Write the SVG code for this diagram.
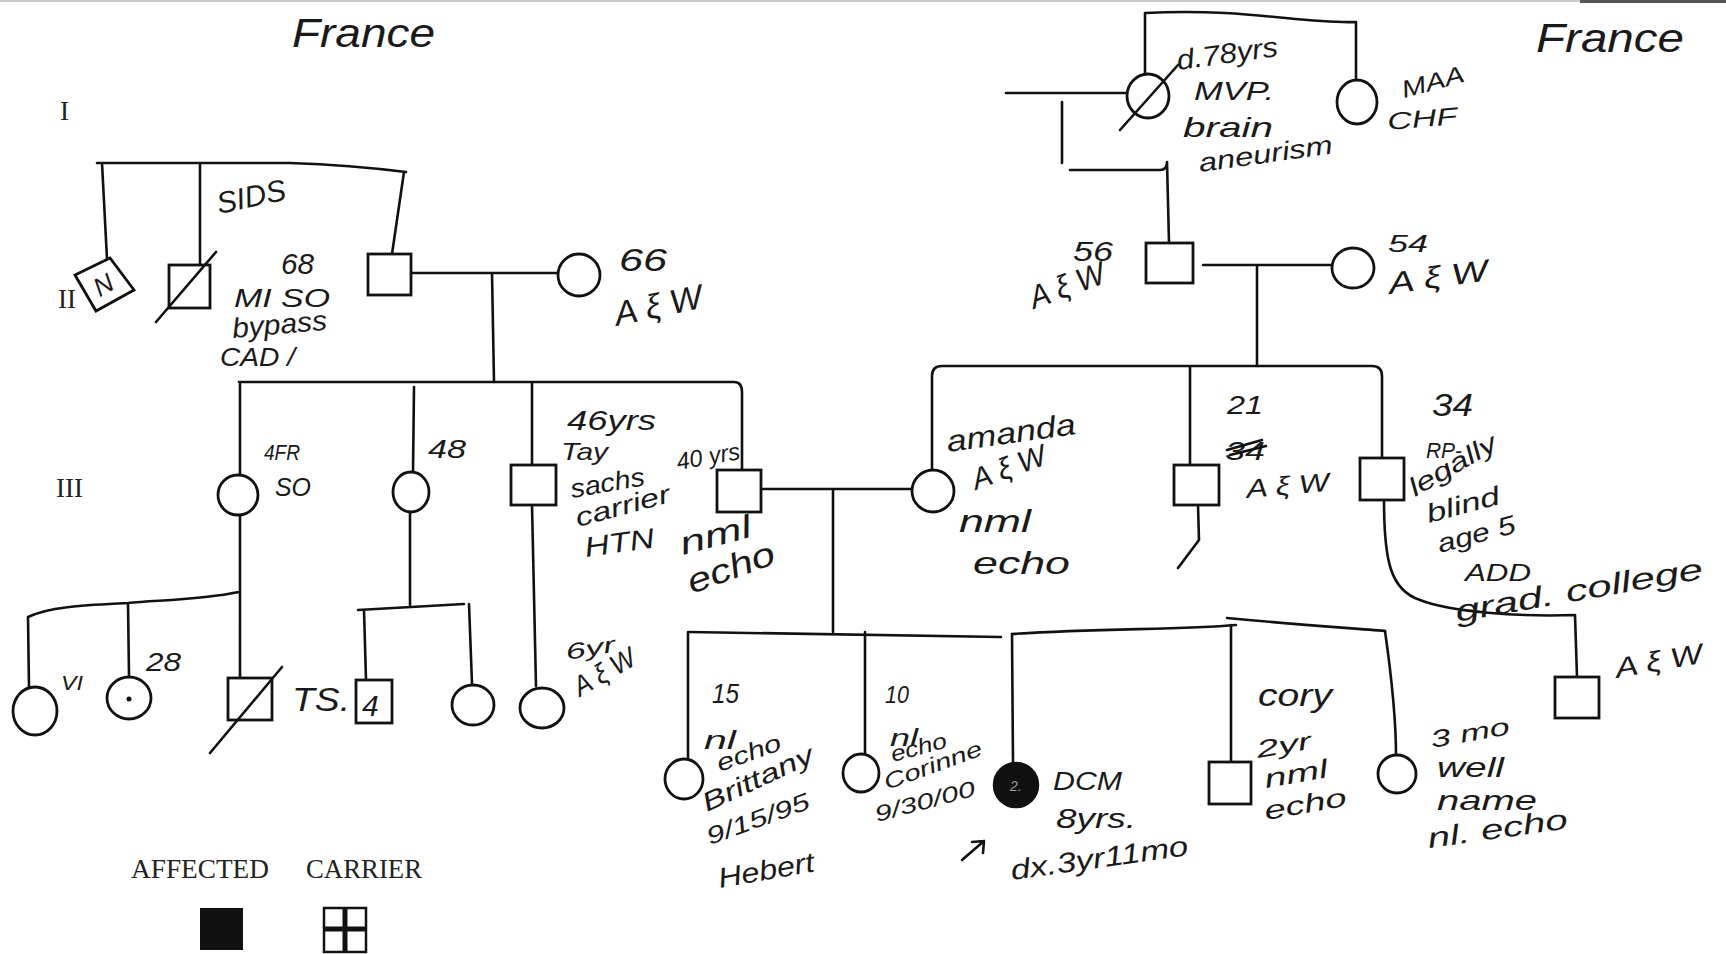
<svg xmlns="http://www.w3.org/2000/svg" width="1726" height="954" viewBox="0 0 1726 954">
<style>
.ln{stroke:#111;stroke-width:2.6;fill:none;stroke-linecap:round;stroke-linejoin:round}
.sym{stroke:#111;stroke-width:2.8;fill:#fff}
.fill{fill:#111;stroke:#111;stroke-width:2.5}
.hw{font-family:"Liberation Sans","DejaVu Sans",sans-serif;font-style:italic;fill:#1a1a1a}
.lv{font-family:"Liberation Serif","DejaVu Serif",serif;font-size:27px;fill:#222}
</style>
<rect x="0" y="0" width="1726" height="954" fill="#fff"/>
<g id="scan-edge">
<line x1="0" y1="1" x2="1726" y2="1" stroke="#c8c8c8" stroke-width="2"/>
<line x1="1580" y1="1" x2="1726" y2="1" stroke="#555" stroke-width="4"/>
</g>
<g id="generation-labels">
<text class="lv" x="60" y="120">I</text>
<text class="lv" x="58" y="308">II</text>
<text class="lv" x="56" y="497">III</text>
</g>
<g id="origin-labels">
<text class="hw" x="292" y="47" font-size="40" textLength="143" lengthAdjust="spacingAndGlyphs">France</text>
<text class="hw" x="1536" y="52" font-size="40" textLength="148" lengthAdjust="spacingAndGlyphs">France</text>
</g>
<g id="connectors">
<path class="ln" d="M1145,13 C1250,8 1300,24 1356,22 M1145,13 L1145,75 M1356,22 L1356,80"/>
<path class="ln" d="M1006,93 L1127,93 M1062,102 L1062,163 M1070,170 L1160,170 Q1167,170 1167,162 M1167,162 L1169,243"/>
<path class="ln" d="M97,163 L290,163 Q350,165 406,172 M102,163 L107,259 M200,163 L200,265 M404,172 L392,254"/>
<path class="ln" d="M411,273 L558,273 M492,273 L494,382"/>
<path class="ln" d="M239,382 L734,382 Q742,382 742,392 L742,469 M240,384 L240,475 M414,387 L413,472 M532,382 L532,465"/>
<path class="ln" d="M240,515 L240,678 M239,592 C200,600 160,600 128,603 C90,605 50,606 28,617 L29,688 M128,603 L129,676"/>
<path class="ln" d="M410,512 L410,605 M358,610 L464,604 M364,610 L366,680 M469,604 L472,684"/>
<path class="ln" d="M532,505 L536,686"/>
<path class="ln" d="M761,489 L912,489 M833,489 L833,632"/>
<path class="ln" d="M689,632 L1001,637 M1012,634 C1100,628 1180,630 1236,625 M1227,618 C1300,625 1350,628 1385,631"/>
<path class="ln" d="M688,632 L688,760 M865,632 L865,755 M1012,634 L1013,763 M1231,625 L1231,762 M1385,631 C1392,680 1396,720 1396,755"/>
<path class="ln" d="M1203,265 L1332,265 M1257,265 L1257,366"/>
<path class="ln" d="M932,470 L932,376 Q932,366 942,366 L1372,366 Q1382,366 1382,376 L1382,458 M1190,366 L1190,465"/>
<path class="ln" d="M1198,505 L1199,540 L1178,568"/>
<path class="ln" d="M1384,500 C1384,560 1390,590 1420,600 C1450,612 1520,617 1575,615 L1577,677"/>
</g>
<g id="I-1">
<ellipse class="sym" cx="1148" cy="96" rx="21" ry="22"/>
<line class="ln" x1="1120" y1="130" x2="1178" y2="65"/>
<text class="hw" x="1178" y="70" font-size="28" textLength="102" lengthAdjust="spacingAndGlyphs" transform="rotate(-8 1178 70)">d.78yrs</text>
<text class="hw" x="1194" y="100" font-size="26" textLength="80" lengthAdjust="spacingAndGlyphs">MVP.</text>
<text class="hw" x="1183" y="137" font-size="28" textLength="90" lengthAdjust="spacingAndGlyphs">brain</text>
<text class="hw" x="1200" y="172" font-size="26" textLength="135" lengthAdjust="spacingAndGlyphs" transform="rotate(-8 1200 172)">aneurism</text>
</g>
<g id="I-2">
<ellipse class="sym" cx="1357" cy="102" rx="20" ry="22"/>
<text class="hw" x="1404" y="98" font-size="24" textLength="64" lengthAdjust="spacingAndGlyphs" transform="rotate(-15 1404 98)">MAA</text>
<text class="hw" x="1388" y="130" font-size="24" textLength="70" lengthAdjust="spacingAndGlyphs" transform="rotate(-5 1388 130)">CHF</text>
</g>
<g id="II-1">
<polygon class="sym" points="75,275 110,258 134,290 96,311"/>
<text class="hw" x="104" y="294" font-size="26" text-anchor="middle" transform="rotate(-30 104 286)">N</text>
</g>
<g id="II-2">
<rect class="sym" x="169" y="265" width="41" height="43"/>
<line class="ln" x1="156" y1="322" x2="216" y2="252"/>
<text class="hw" x="219" y="214" font-size="30" textLength="70" lengthAdjust="spacingAndGlyphs" transform="rotate(-12 219 214)">SIDS</text>
</g>
<g id="II-3">
<rect class="sym" x="368" y="254" width="43" height="41"/>
<text class="hw" x="281" y="274" font-size="30" textLength="33" lengthAdjust="spacingAndGlyphs">68</text>
<text class="hw" x="234" y="307" font-size="26" textLength="96" lengthAdjust="spacingAndGlyphs">MI SO</text>
<text class="hw" x="233" y="338" font-size="28" textLength="95" lengthAdjust="spacingAndGlyphs" transform="rotate(-5 233 338)">bypass</text>
<text class="hw" x="220" y="366" font-size="26" textLength="75" lengthAdjust="spacingAndGlyphs">CAD /</text>
</g>
<g id="II-4">
<circle class="sym" cx="579" cy="275" r="21"/>
<text class="hw" x="619" y="271" font-size="32" textLength="48" lengthAdjust="spacingAndGlyphs">66</text>
<text class="hw" x="617" y="326" font-size="34" textLength="89" lengthAdjust="spacingAndGlyphs" transform="rotate(-12 617 326)">A ξ W</text>
</g>
<g id="II-5">
<rect class="sym" x="1146" y="243" width="47" height="40"/>
<text class="hw" x="1073" y="261" font-size="28" textLength="40" lengthAdjust="spacingAndGlyphs">56</text>
<text class="hw" x="1034" y="309" font-size="32" textLength="78" lengthAdjust="spacingAndGlyphs" transform="rotate(-20 1034 309)">A ξ W</text>
</g>
<g id="II-6">
<ellipse class="sym" cx="1353" cy="268" rx="21" ry="20"/>
<text class="hw" x="1388" y="252" font-size="24" textLength="40" lengthAdjust="spacingAndGlyphs">54</text>
<text class="hw" x="1390" y="294" font-size="30" textLength="100" lengthAdjust="spacingAndGlyphs" transform="rotate(-8 1390 294)">A ξ W</text>
</g>
<g id="III-1">
<ellipse class="sym" cx="238" cy="495" rx="20" ry="20"/>
<text class="hw" x="264" y="460" font-size="22" textLength="36" lengthAdjust="spacingAndGlyphs">4FR</text>
<text class="hw" x="275" y="496" font-size="26" textLength="36" lengthAdjust="spacingAndGlyphs">SO</text>
</g>
<g id="III-2">
<ellipse class="sym" cx="411" cy="492" rx="18" ry="20"/>
<text class="hw" x="428" y="458" font-size="26" textLength="38" lengthAdjust="spacingAndGlyphs">48</text>
</g>
<g id="III-3">
<rect class="sym" x="511" y="465" width="45" height="40"/>
<text class="hw" x="567" y="430" font-size="28" textLength="89" lengthAdjust="spacingAndGlyphs">46yrs</text>
<text class="hw" x="561" y="460" font-size="24" textLength="47" lengthAdjust="spacingAndGlyphs">Tay</text>
<text class="hw" x="572" y="498" font-size="26" textLength="75" lengthAdjust="spacingAndGlyphs" transform="rotate(-10 572 498)">sachs</text>
<text class="hw" x="578" y="527" font-size="26" textLength="97" lengthAdjust="spacingAndGlyphs" transform="rotate(-15 578 527)">carrier</text>
<text class="hw" x="586" y="557" font-size="28" textLength="70" lengthAdjust="spacingAndGlyphs" transform="rotate(-8 586 557)">HTN</text>
</g>
<g id="III-4">
<rect class="sym" x="717" y="470" width="44" height="42"/>
<text class="hw" x="678" y="470" font-size="24" textLength="64" lengthAdjust="spacingAndGlyphs" transform="rotate(-10 678 470)">40 yrs</text>
<text class="hw" x="683" y="555" font-size="32" textLength="73" lengthAdjust="spacingAndGlyphs" transform="rotate(-15 683 555)">nml</text>
<text class="hw" x="692" y="594" font-size="34" textLength="91" lengthAdjust="spacingAndGlyphs" transform="rotate(-20 692 594)">echo</text>
</g>
<g id="III-5">
<circle class="sym" cx="933" cy="491" r="21"/>
<text class="hw" x="948" y="452" font-size="30" textLength="130" lengthAdjust="spacingAndGlyphs" transform="rotate(-8 948 452)">amanda</text>
<text class="hw" x="976" y="490" font-size="30" textLength="77" lengthAdjust="spacingAndGlyphs" transform="rotate(-20 976 490)">A ξ W</text>
<text class="hw" x="959" y="532" font-size="32" textLength="72" lengthAdjust="spacingAndGlyphs">nml</text>
<text class="hw" x="973" y="574" font-size="32" textLength="97" lengthAdjust="spacingAndGlyphs">echo</text>
</g>
<g id="III-6">
<rect class="sym" x="1174" y="465" width="45" height="40"/>
<text class="hw" x="1227" y="414" font-size="26" textLength="36" lengthAdjust="spacingAndGlyphs">21</text>
<text class="hw" x="1225" y="460" font-size="26" textLength="40" lengthAdjust="spacingAndGlyphs">34</text>
<path class="ln" d="M1227,450 L1262,440 M1230,455 L1266,446" stroke-width="2"/>
<text class="hw" x="1247" y="498" font-size="26" textLength="83" lengthAdjust="spacingAndGlyphs" transform="rotate(-5 1247 498)">A ξ W</text>
</g>
<g id="III-7">
<rect class="sym" x="1360" y="458" width="44" height="42"/>
<text class="hw" x="1432" y="416" font-size="32" textLength="41" lengthAdjust="spacingAndGlyphs">34</text>
<text class="hw" x="1426" y="458" font-size="22" textLength="36" lengthAdjust="spacingAndGlyphs">RP-</text>
<text class="hw" x="1415" y="497" font-size="26" textLength="97" lengthAdjust="spacingAndGlyphs" transform="rotate(-30 1415 497)">legally</text>
<text class="hw" x="1429" y="523" font-size="26" textLength="75" lengthAdjust="spacingAndGlyphs" transform="rotate(-15 1429 523)">blind</text>
<text class="hw" x="1440" y="553" font-size="26" textLength="80" lengthAdjust="spacingAndGlyphs" transform="rotate(-15 1440 553)">age 5</text>
<text class="hw" x="1465" y="581" font-size="24" textLength="66" lengthAdjust="spacingAndGlyphs">ADD</text>
<text class="hw" x="1457" y="622" font-size="30" textLength="251" lengthAdjust="spacingAndGlyphs" transform="rotate(-10 1457 622)">grad. college</text>
</g>
<g id="IV-1">
<ellipse class="sym" cx="35" cy="711" rx="22" ry="24"/>
<text class="hw" x="61" y="690" font-size="20" textLength="22" lengthAdjust="spacingAndGlyphs">VI</text>
</g>
<g id="IV-2">
<ellipse class="sym" cx="129" cy="698" rx="22" ry="21"/>
<circle cx="129" cy="699" r="2.5" fill="#111"/>
<text class="hw" x="146" y="671" font-size="26" textLength="35" lengthAdjust="spacingAndGlyphs">28</text>
</g>
<g id="IV-3">
<rect class="sym" x="228" y="678" width="44" height="42"/>
<line class="ln" x1="210" y1="753" x2="282" y2="667"/>
<text class="hw" x="292" y="711" font-size="34" textLength="58" lengthAdjust="spacingAndGlyphs">TS.</text>
</g>
<g id="IV-4">
<rect class="sym" x="356" y="680" width="36" height="43"/>
<text class="hw" x="362" y="716" font-size="30">4</text>
</g>
<g id="IV-5">
<ellipse class="sym" cx="473" cy="705" rx="21" ry="20"/>
</g>
<g id="IV-6">
<ellipse class="sym" cx="542" cy="708" rx="22" ry="20"/>
<text class="hw" x="567" y="660" font-size="22" textLength="50" lengthAdjust="spacingAndGlyphs" transform="rotate(-10 567 660)">6yr</text>
<text class="hw" x="580" y="697" font-size="28" textLength="67" lengthAdjust="spacingAndGlyphs" transform="rotate(-30 580 697)">A ξ W</text>
</g>
<g id="IV-7">
<ellipse class="sym" cx="684" cy="779" rx="19" ry="20"/>
<text class="hw" x="712" y="703" font-size="28" textLength="27" lengthAdjust="spacingAndGlyphs">15</text>
<text class="hw" x="704" y="749" font-size="26" textLength="32" lengthAdjust="spacingAndGlyphs">nl</text>
<text class="hw" x="720" y="772" font-size="24" textLength="67" lengthAdjust="spacingAndGlyphs" transform="rotate(-20 720 772)">echo</text>
<text class="hw" x="707" y="812" font-size="26" textLength="120" lengthAdjust="spacingAndGlyphs" transform="rotate(-25 707 812)">Brittany</text>
<text class="hw" x="710" y="845" font-size="24" textLength="108" lengthAdjust="spacingAndGlyphs" transform="rotate(-20 710 845)">9/15/95</text>
<text class="hw" x="720" y="888" font-size="28" textLength="97" lengthAdjust="spacingAndGlyphs" transform="rotate(-10 720 888)">Hebert</text>
</g>
<g id="IV-8">
<ellipse class="sym" cx="861" cy="773" rx="18" ry="19"/>
<text class="hw" x="885" y="703" font-size="24" textLength="24" lengthAdjust="spacingAndGlyphs">10</text>
<text class="hw" x="890" y="746" font-size="24" textLength="28" lengthAdjust="spacingAndGlyphs">nl</text>
<text class="hw" x="893" y="762" font-size="22" textLength="57" lengthAdjust="spacingAndGlyphs" transform="rotate(-15 893 762)">echo</text>
<text class="hw" x="887" y="790" font-size="22" textLength="103" lengthAdjust="spacingAndGlyphs" transform="rotate(-20 887 790)">Corinne</text>
<text class="hw" x="877" y="822" font-size="22" textLength="103" lengthAdjust="spacingAndGlyphs" transform="rotate(-15 877 822)">9/30/00</text>
</g>
<g id="IV-9">
<circle class="fill" cx="1016" cy="785" r="22"/>
<text class="hw" x="1010" y="791" font-size="14" style="fill:#9a9a9a">2.</text>
<path class="ln" d="M962,860 L984,841 M972,842 L984,841 L983,853"/>
<text class="hw" x="1053" y="790" font-size="26" textLength="69" lengthAdjust="spacingAndGlyphs">DCM</text>
<text class="hw" x="1056" y="828" font-size="28" textLength="80" lengthAdjust="spacingAndGlyphs">8yrs.</text>
<text class="hw" x="1012" y="880" font-size="28" textLength="179" lengthAdjust="spacingAndGlyphs" transform="rotate(-8 1012 880)">dx.3yr11mo</text>
</g>
<g id="IV-10">
<rect class="sym" x="1209" y="762" width="42" height="42"/>
<text class="hw" x="1258" y="706" font-size="32" textLength="74" lengthAdjust="spacingAndGlyphs">cory</text>
<text class="hw" x="1258" y="758" font-size="24" textLength="55" lengthAdjust="spacingAndGlyphs" transform="rotate(-10 1258 758)">2yr</text>
<text class="hw" x="1266" y="788" font-size="26" textLength="64" lengthAdjust="spacingAndGlyphs" transform="rotate(-10 1266 788)">nml</text>
<text class="hw" x="1266" y="820" font-size="26" textLength="83" lengthAdjust="spacingAndGlyphs" transform="rotate(-10 1266 820)">echo</text>
</g>
<g id="IV-11">
<circle class="sym" cx="1397" cy="774" r="19"/>
<text class="hw" x="1432" y="748" font-size="24" textLength="80" lengthAdjust="spacingAndGlyphs" transform="rotate(-10 1432 748)">3 mo</text>
<text class="hw" x="1437" y="777" font-size="28" textLength="67" lengthAdjust="spacingAndGlyphs">well</text>
<text class="hw" x="1437" y="810" font-size="28" textLength="100" lengthAdjust="spacingAndGlyphs">name</text>
<text class="hw" x="1429" y="848" font-size="28" textLength="141" lengthAdjust="spacingAndGlyphs" transform="rotate(-8 1429 848)">nl. echo</text>
</g>
<g id="IV-12">
<rect class="sym" x="1555" y="677" width="44" height="41"/>
<text class="hw" x="1617" y="678" font-size="28" textLength="88" lengthAdjust="spacingAndGlyphs" transform="rotate(-10 1617 678)">A ξ W</text>
</g>
<g id="legend">
<text class="lv" x="131" y="878" textLength="138" lengthAdjust="spacingAndGlyphs">AFFECTED</text>
<text class="lv" x="306" y="878" textLength="116" lengthAdjust="spacingAndGlyphs">CARRIER</text>
<rect x="200" y="908" width="43" height="42" fill="#111"/>
<rect x="324" y="908" width="42" height="44" fill="#fff" stroke="#111" stroke-width="2.5"/>
<line x1="324" y1="929" x2="366" y2="929" stroke="#111" stroke-width="5"/>
<line x1="345" y1="908" x2="345" y2="952" stroke="#111" stroke-width="5"/>
</g>
</svg>
